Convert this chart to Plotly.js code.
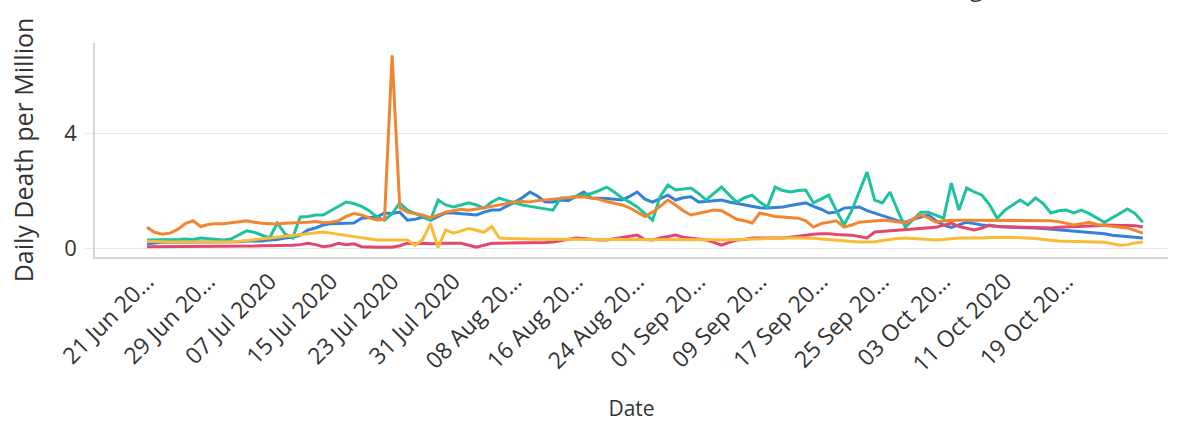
<!DOCTYPE html>
<html>
<head>
<meta charset="utf-8">
<script src="https://cdn.plot.ly/plotly-3.0.1.min.js"></script>
<style>
  html, body { margin: 0; padding: 0; background: #ffffff; }
  #chart { width: 1186px; height: 423px; }
</style>
</head>
<body>
<div id="chart"></div>
<script>
// ---- Data (daily deaths per million), one value per day starting 21 Jun 2020 ----
const startDate = '2020-06-21';

const seriesNames = ['Andhra Pradesh', 'Karnataka', 'Kerala', 'Tamil Nadu', 'Telangana'];
const seriesColors = ['#3381d8', '#1fc29f', '#e2486f', '#f2852f', '#f9bb36'];

const andhraPradesh = [
  0.15, 0.18, 0.2, 0.2, 0.2, 0.22, 0.2, 0.22, 0.2, 0.2,
  0.2, 0.22, 0.22, 0.25, 0.25, 0.25, 0.28, 0.3, 0.35, 0.38,
  0.45, 0.63, 0.7, 0.8, 0.85, 0.85, 0.87, 0.87, 1.04, 1.05,
  1.08, 1.22, 1.2, 1.25, 0.97, 1.0, 1.08, 0.97, 1.1, 1.22,
  1.22, 1.2, 1.18, 1.15, 1.25, 1.32, 1.32, 1.45, 1.6, 1.75,
  1.95, 1.8, 1.6, 1.6, 1.67, 1.65, 1.8, 1.95, 1.74, 1.74,
  1.72, 1.7, 1.67, 1.8, 1.95, 1.7, 1.6, 1.72, 1.84, 1.67,
  1.75, 1.78, 1.6, 1.62, 1.65, 1.67, 1.6, 1.55, 1.5, 1.45,
  1.4, 1.39, 1.4, 1.43, 1.48, 1.52, 1.57, 1.45, 1.35, 1.22,
  1.25, 1.39, 1.42, 1.43, 1.3, 1.22, 1.12, 1.04, 0.95, 0.9,
  1.0, 1.08, 1.15, 0.95, 0.8, 0.72, 0.8, 0.9, 0.85, 0.8,
  0.78, 0.75, 0.73, 0.72, 0.72, 0.7, 0.7, 0.68, 0.66, 0.63,
  0.6, 0.58, 0.56, 0.54, 0.52, 0.5, 0.45, 0.42, 0.4, 0.37, 0.35
];

const karnataka = [
  0.28, 0.28, 0.3, 0.3, 0.3, 0.32, 0.3, 0.35, 0.32, 0.3,
  0.28, 0.32, 0.45, 0.6, 0.55, 0.45, 0.35, 0.87, 0.5, 0.35,
  1.08, 1.1, 1.15, 1.15, 1.3, 1.45, 1.6, 1.55, 1.45, 1.3,
  1.08, 0.97, 1.2, 1.57, 1.32, 1.2, 1.1, 0.97, 1.67, 1.5,
  1.43, 1.5, 1.57, 1.5, 1.39, 1.6, 1.74, 1.65, 1.57, 1.5,
  1.45, 1.4, 1.35, 1.32, 1.74, 1.75, 1.8, 1.84, 1.9, 2.0,
  2.12, 1.95, 1.74, 1.6, 1.43, 1.2, 0.97, 1.8, 2.19, 2.02,
  2.05, 2.09, 1.9, 1.67, 1.9, 2.12, 1.85, 1.6, 1.75, 1.84,
  1.6, 1.43, 2.12, 2.0, 1.95, 2.0, 2.02, 1.57, 1.7, 1.84,
  1.3, 0.8, 1.3, 2.0, 2.64, 1.67, 1.57, 1.95, 1.3, 0.73,
  1.0, 1.25, 1.25, 1.15, 1.04, 2.26, 1.32, 2.09, 1.95, 1.84,
  1.5, 1.04, 1.32, 1.5, 1.67, 1.5, 1.74, 1.55, 1.22, 1.3,
  1.32, 1.22, 1.32, 1.2, 1.05, 0.9, 1.05, 1.2, 1.36, 1.2, 0.9
];

const kerala = [
  0.05, 0.05, 0.05, 0.05, 0.05, 0.05, 0.05, 0.05, 0.05, 0.06,
  0.06, 0.06, 0.07, 0.07, 0.07, 0.08, 0.08, 0.08, 0.1, 0.1,
  0.12, 0.17, 0.12, 0.05, 0.08, 0.17, 0.12, 0.15, 0.05, 0.03,
  0.03, 0.03, 0.03, 0.08, 0.17, 0.15, 0.17, 0.15, 0.17, 0.17,
  0.17, 0.17, 0.1, 0.03, 0.1, 0.17, 0.17, 0.17, 0.17, 0.17,
  0.17, 0.17, 0.19, 0.21, 0.25, 0.3, 0.35, 0.33, 0.3, 0.28,
  0.28, 0.32, 0.38, 0.4, 0.45, 0.3, 0.28, 0.35, 0.4, 0.45,
  0.38, 0.35, 0.32, 0.28, 0.2, 0.1, 0.2, 0.28, 0.3, 0.35,
  0.35, 0.35, 0.35, 0.35, 0.38, 0.42, 0.45, 0.48, 0.5, 0.5,
  0.47, 0.45, 0.45, 0.4, 0.35, 0.56, 0.58, 0.6, 0.62, 0.63,
  0.65, 0.66, 0.7, 0.72, 0.8, 0.87, 0.75, 0.68, 0.63, 0.7,
  0.8, 0.75, 0.74, 0.73, 0.73, 0.72, 0.71, 0.7, 0.7, 0.72,
  0.73, 0.73, 0.75, 0.76, 0.78, 0.8, 0.8, 0.8, 0.8, 0.78, 0.73
];

const tamilNadu = [
  0.72, 0.55, 0.48, 0.52, 0.65, 0.85, 0.95, 0.75, 0.82, 0.85,
  0.85, 0.88, 0.9, 0.95, 0.9, 0.86, 0.85, 0.84, 0.86, 0.87,
  0.87, 0.9, 0.92, 0.88, 0.9, 0.95, 1.1, 1.2, 1.15, 1.05,
  0.98, 1.0, 6.7, 1.4, 1.25, 1.2, 1.15, 1.05, 1.15, 1.25,
  1.3, 1.35, 1.32, 1.35, 1.4, 1.45, 1.5, 1.55, 1.6, 1.62,
  1.6, 1.65, 1.68, 1.7, 1.72, 1.75, 1.78, 1.78, 1.75, 1.7,
  1.62, 1.55, 1.5, 1.4, 1.25, 1.1, 1.25, 1.45, 1.67, 1.5,
  1.3, 1.15, 1.2, 1.25, 1.32, 1.3, 1.15, 1.0, 0.95, 0.87,
  1.22, 1.15, 1.1, 1.08, 1.05, 1.04, 0.95, 0.73, 0.85, 0.9,
  0.95, 0.73, 0.8, 0.9, 0.92, 0.95, 0.97, 0.95, 0.9, 0.87,
  1.0, 1.15, 1.05, 0.9, 0.95, 0.97, 0.97, 0.97, 0.97, 0.97,
  0.97, 0.97, 0.97, 0.97, 0.97, 0.97, 0.97, 0.96, 0.95, 0.92,
  0.85, 0.8, 0.85, 0.9, 0.82, 0.78, 0.75, 0.72, 0.7, 0.62, 0.52
];

const telangana = [
  0.24, 0.22, 0.22, 0.21, 0.21, 0.21, 0.21, 0.22, 0.21, 0.21,
  0.21, 0.22, 0.24, 0.26, 0.28, 0.32, 0.35, 0.38, 0.42, 0.45,
  0.48, 0.5, 0.53, 0.56, 0.52, 0.48, 0.42, 0.38, 0.35, 0.32,
  0.28, 0.28, 0.28, 0.28, 0.28, 0.1, 0.3, 0.85, 0.02, 0.63,
  0.52, 0.6, 0.68, 0.62, 0.55, 0.75, 0.35, 0.33, 0.32, 0.32,
  0.31, 0.31, 0.31, 0.31, 0.3, 0.31, 0.31, 0.31, 0.3, 0.31,
  0.31, 0.3, 0.31, 0.31, 0.3, 0.3, 0.31, 0.3, 0.3, 0.31,
  0.3, 0.29, 0.3, 0.3, 0.29, 0.28, 0.29, 0.3, 0.31, 0.32,
  0.33, 0.34, 0.35, 0.35, 0.35, 0.35, 0.35, 0.34, 0.32, 0.3,
  0.27, 0.24, 0.22, 0.21, 0.21, 0.22, 0.26, 0.3, 0.33, 0.35,
  0.33, 0.3, 0.28, 0.28, 0.3, 0.33, 0.35, 0.35, 0.34, 0.35,
  0.37, 0.38, 0.38, 0.37, 0.36, 0.35, 0.33, 0.3, 0.27, 0.25,
  0.24, 0.23, 0.22, 0.21, 0.21, 0.2, 0.15, 0.1, 0.12, 0.18, 0.21
];

const tickDates = [
  '2020-06-21', '2020-06-29', '2020-07-07', '2020-07-15', '2020-07-23', '2020-07-31',
  '2020-08-08', '2020-08-16', '2020-08-24', '2020-09-01', '2020-09-09', '2020-09-17',
  '2020-09-25', '2020-10-03', '2020-10-11', '2020-10-19'
];
const tickLabels = [
  '21 Jun 20…', '29 Jun 20…', '07 Jul 2020', '15 Jul 2020', '23 Jul 2020', '31 Jul 2020',
  '08 Aug 20…', '16 Aug 20…', '24 Aug 20…', '01 Sep 20…', '09 Sep 20…', '17 Sep 20…',
  '25 Sep 20…', '03 Oct 20…', '11 Oct 2020', '19 Oct 20…'
];

// ---- Build consecutive daily dates ----
function buildDates(start, n) {
  const out = [];
  const d0 = new Date(start + 'T00:00:00Z');
  for (let i = 0; i < n; i++) {
    const d = new Date(d0.getTime() + i * 86400000);
    out.push(d.toISOString().slice(0, 10));
  }
  return out;
}

const allSeries = [andhraPradesh, karnataka, kerala, tamilNadu, telangana];
const FONT = 'Open Sans, sans-serif';

const traces = allSeries.map((vals, i) => ({
  type: 'scatter',
  mode: 'lines',
  name: seriesNames[i],
  x: buildDates(startDate, vals.length),
  y: vals,
  line: { color: seriesColors[i], width: 3 },
  hoverinfo: 'x+y+name'
}));

const layout = {
  width: 1186,
  height: 423,
  paper_bgcolor: '#ffffff',
  plot_bgcolor: '#ffffff',
  margin: { l: 95, r: 18, t: 43, b: 166, autoexpand: false },
  font: { family: FONT, color: '#333333', size: 20 },
  showlegend: true,
  legend: {
    orientation: 'h',
    x: 0.094, xanchor: 'left',
    y: 1.155, yanchor: 'bottom',
    font: { family: FONT, size: 24, color: '#333333' },
    itemwidth: 30,
    bgcolor: 'rgba(0,0,0,0)'
  },
  xaxis: {
    type: 'date',
    range: ['2020-06-14 05:00', '2020-11-01 07:00'],
    tickmode: 'array',
    tickvals: tickDates,
    ticktext: tickLabels,
    tickangle: -45,
    tickfont: { family: FONT, size: 23, color: '#333333' },
    showgrid: false,
    zeroline: false,
    showline: true,
    linecolor: '#d6d6d6',
    linewidth: 1.5,
    ticks: '',
    title: { text: 'Date', font: { family: FONT, size: 21, color: '#333333' }, standoff: 24 }
  },
  yaxis: {
    range: [-0.31, 7.13],
    tickmode: 'array',
    tickvals: [0, 4],
    ticktext: ['0', '4'],
    tickfont: { family: FONT, size: 22, color: '#333333' },
    showgrid: true,
    gridcolor: '#e6e6e6',
    gridwidth: 1,
    zeroline: false,
    showline: true,
    linecolor: '#d6d6d6',
    linewidth: 1.5,
    ticks: 'outside',
    ticklen: 8,
    tickcolor: '#e6e6e6',
    ticklabelstandoff: 4,
    title: { text: 'Daily Death per Million', font: { family: FONT, size: 25, color: '#333333' }, standoff: 24 }
  }
};

Plotly.newPlot('chart', traces, layout, { displayModeBar: false, responsive: false });
</script>
</body>
</html>
